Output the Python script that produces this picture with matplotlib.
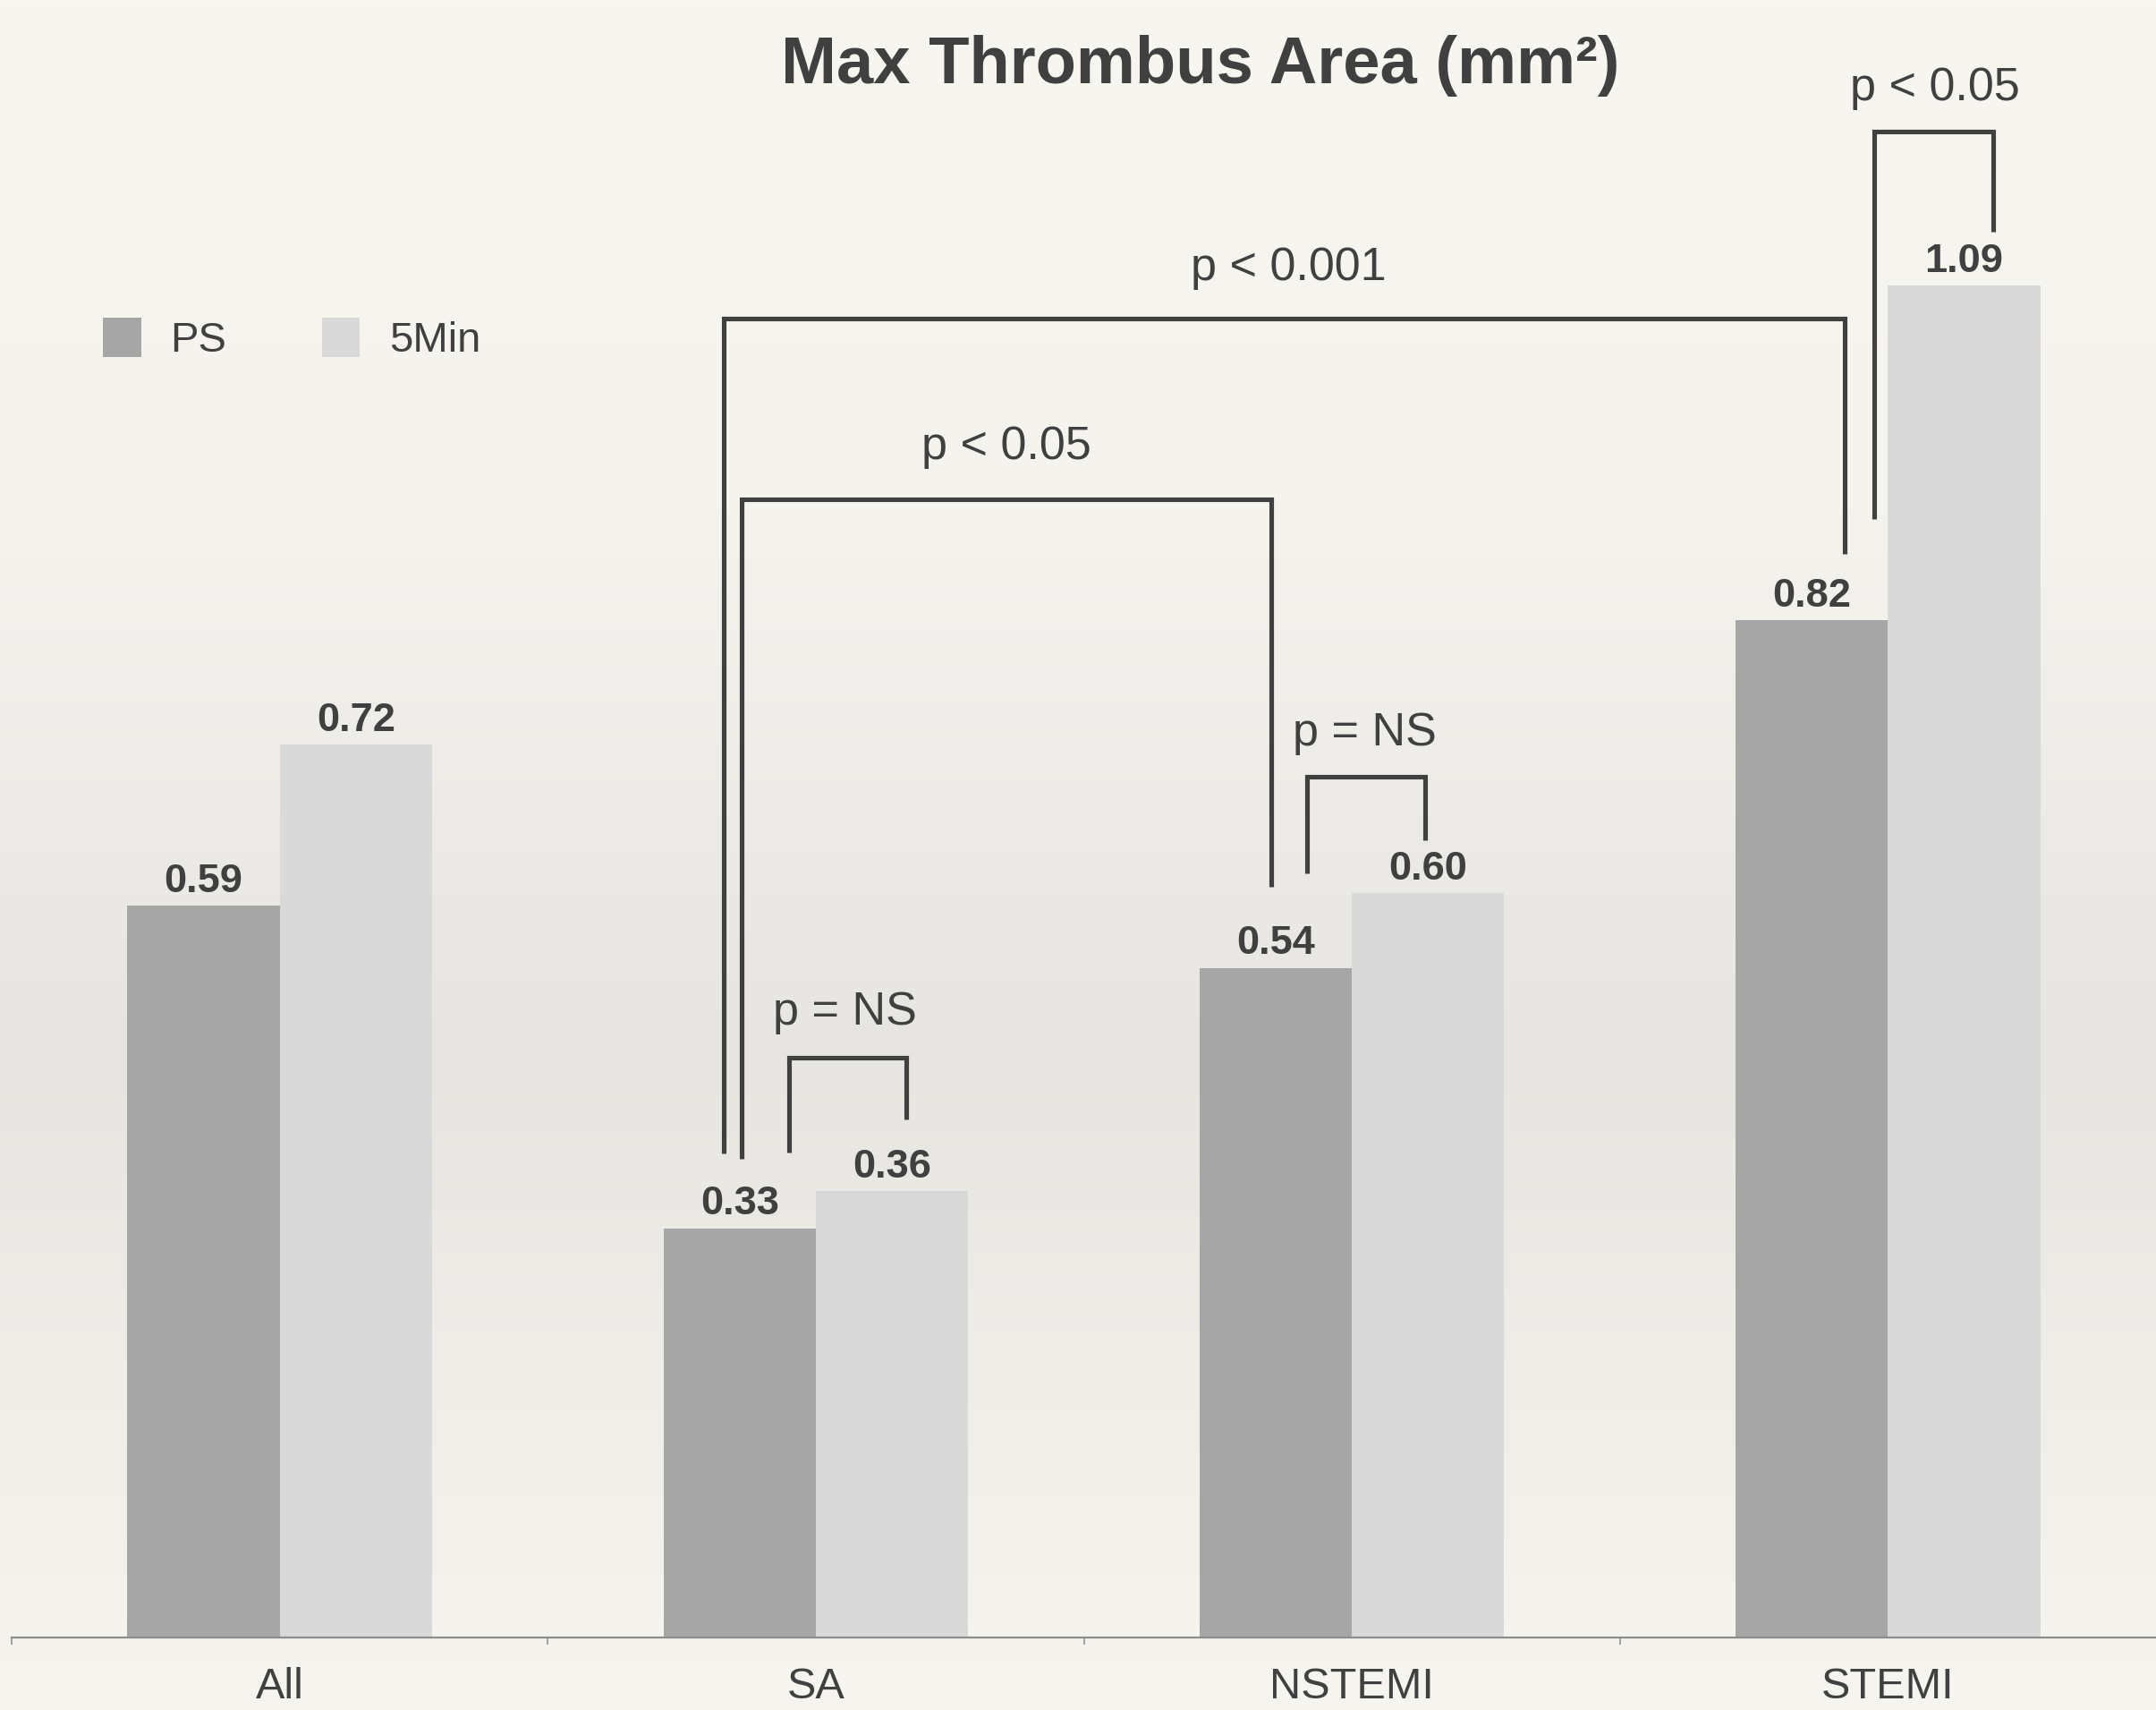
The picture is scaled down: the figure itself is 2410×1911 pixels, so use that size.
import numpy as np
import matplotlib
matplotlib.use("Agg")
import matplotlib.pyplot as plt
from matplotlib.colors import LinearSegmentedColormap

plt.rcParams['font.family'] = ['Liberation Sans', 'DejaVu Sans']

# ---- data ----
categories = ['All', 'SA', 'NSTEMI', 'STEMI']
ps_values = [0.59, 0.33, 0.54, 0.82]
min5_values = [0.72, 0.36, 0.60, 1.09]
series_names = ['PS', '5Min']

# significance brackets: (x_left, x_right, y_top, y_left_end, y_right_end, label, label_x, label_y)
brackets = [
    (0.950, 1.168, 0.4675, 0.391, 0.418, 'p = NS', 1.055, 0.494),
    (0.861, 1.849, 0.918, 0.386, 0.605, 'p < 0.05', 1.355, 0.950),
    (0.828, 2.919, 1.0635, 0.390, 0.874, 'p < 0.001', 1.881, 1.0945),
    (1.917, 2.136, 0.694, 0.616, 0.643, 'p = NS', 2.024, 0.719),
    (2.975, 3.196, 1.214, 0.902, 1.1335, 'p < 0.05', 3.087, 1.2395),
]

W, H, DPI = 2410, 1911, 100
fig = plt.figure(figsize=(W / DPI, H / DPI), dpi=DPI)

# paper-like background with a soft vertical shading
bg_ax = fig.add_axes([0, 0, 1, 1], zorder=-10)
bg_cmap = LinearSegmentedColormap.from_list(
    'paper',
    [(0.0, '#f8f6f1'), (0.30, '#f5f3ee'), (0.50, '#eceae6'), (0.62, '#e7e5e1'),
     (0.80, '#efede8'), (1.0, '#f7f5f0')])
grad = np.linspace(0, 1, 512).reshape(-1, 1)
bg_ax.imshow(grad, cmap=bg_cmap, aspect='auto', extent=[0, 1, 0, 1],
             origin='upper', vmin=0, vmax=1)
bg_ax.axis('off')

ax = fig.add_axes([13 / W, 81 / H, 1 - 13 / W, 1830 / H])
ax.set_facecolor('none')

x = np.arange(len(categories))
bw = 0.284
text_color = '#404040'

ax.bar(x - bw / 2, ps_values, width=bw, color='#a6a6a6', label=series_names[0], zorder=2)
ax.bar(x + bw / 2, min5_values, width=bw, color='#d9d9d9', label=series_names[1], zorder=2)

label_gap = 0.011
for xi, v in zip(x, ps_values):
    ax.text(xi - bw / 2, v + label_gap, f'{v:.2f}', ha='center', va='baseline',
            fontsize=32.5, fontweight='bold', color=text_color)
for xi, v in zip(x, min5_values):
    ax.text(xi + bw / 2, v + label_gap, f'{v:.2f}', ha='center', va='baseline',
            fontsize=32.5, fontweight='bold', color=text_color)

for xl, xr, yt, yl, yr, lab, lx, ly in brackets:
    ax.plot([xl, xl, xr, xr], [yl, yt, yt, yr], color=text_color, lw=3.7,
            solid_joinstyle='miter', solid_capstyle='butt', zorder=3)
    ax.text(lx, ly, lab, ha='center', va='baseline', fontsize=37.5, color=text_color)

ax.set_xlim(-0.5, 3.5)
ax.set_ylim(0, 1830 / 1386)

for s in ['top', 'right', 'left']:
    ax.spines[s].set_visible(False)
ax.spines['bottom'].set_color('#8c8c8c')
ax.spines['bottom'].set_linewidth(1.6)
ax.set_yticks([])
ax.set_xticks(x)
ax.set_xticklabels(categories, fontsize=35, color=text_color)
ax.tick_params(axis='x', which='major', length=0, pad=24)
ax.set_xticks(np.arange(-0.5, 3.5, 1.0), minor=True)
ax.tick_params(axis='x', which='minor', length=6, width=1.1, color='#8c8c8c', direction='out')

ax.legend(loc='center left', bbox_to_anchor=(115 / W, 1 - 379 / H),
          bbox_transform=fig.transFigure, ncol=2, frameon=False,
          fontsize=34, handlelength=0.9, handleheight=1.05, handletextpad=0.7,
          columnspacing=2.25, borderpad=0, borderaxespad=0, labelcolor=text_color)

fig.text(1342 / W, 1 - 93 / H, 'Max Thrombus Area (mm²)', ha='center', va='baseline',
         fontsize=53.5, fontweight='bold', color=text_color)

fig.savefig('out.png', dpi=DPI)
